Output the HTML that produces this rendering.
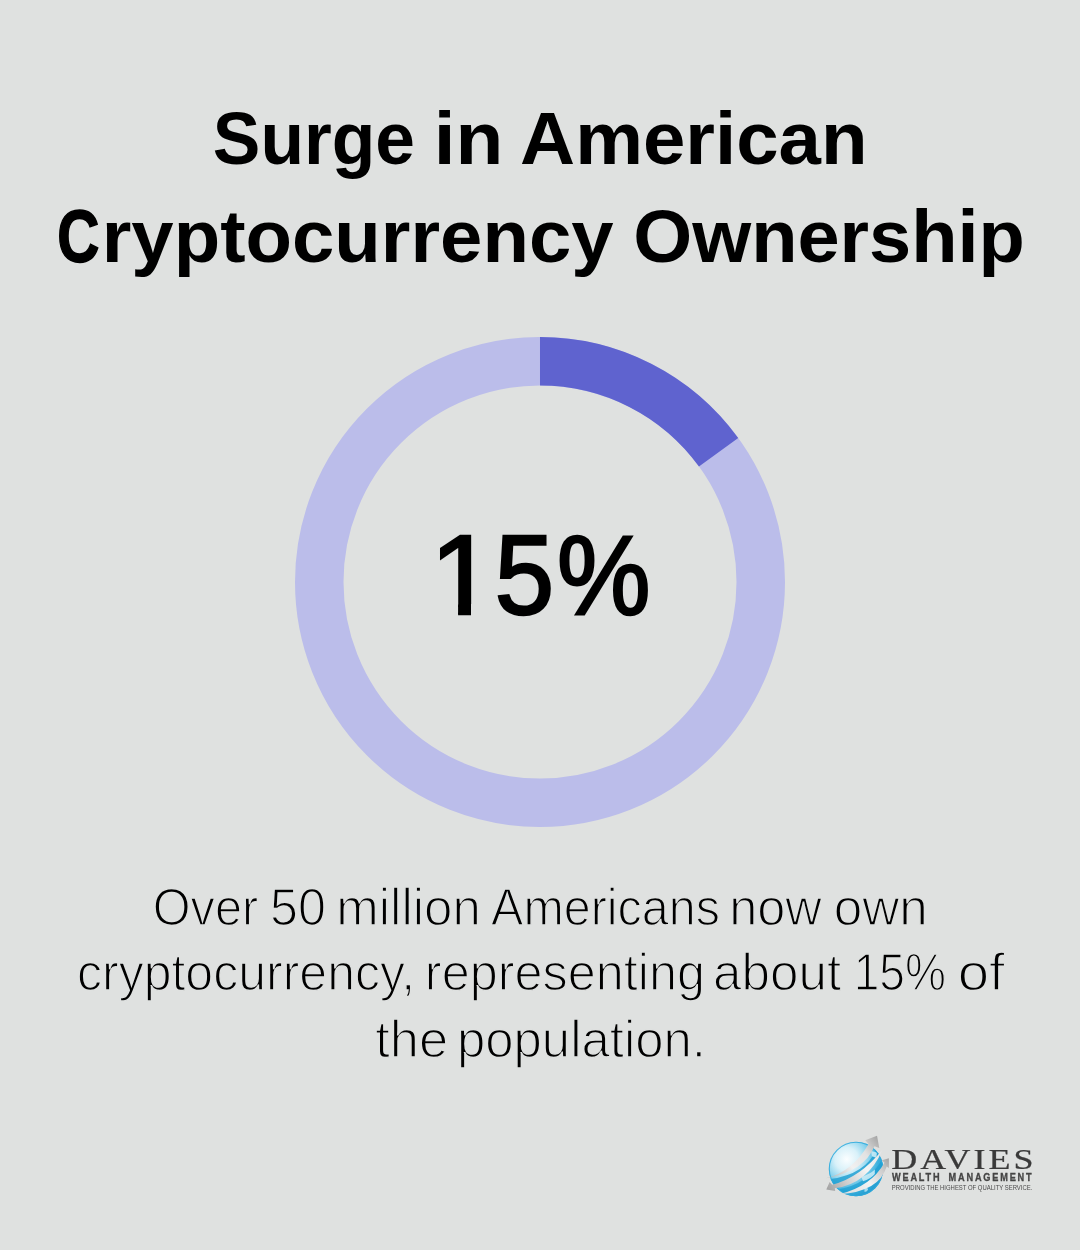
<!DOCTYPE html>
<html lang="en">
<head>
<meta charset="utf-8">
<title>Surge in American Cryptocurrency Ownership</title>
<style>
html,body,h1,p{margin:0;padding:0}
body{width:1080px;height:1250px;background:#dfe1e0;position:relative;overflow:hidden;color:#000;font-family:"Liberation Sans",sans-serif}
h1,p{font-weight:400;font-size:0}
.l{display:block;position:absolute;left:0;width:1080px;height:0;line-height:0;text-align:center;white-space:nowrap}
.w{display:inline-block;line-height:0;transform-origin:0 0}
.t .l{font-weight:700;font-size:75px}
.n .l{font-size:113px;-webkit-text-stroke:2.5px #000}
.b .l{font-size:52.5px;-webkit-text-stroke:1.5px #dfe1e0}
svg{position:absolute;left:0;top:0}
</style>
</head>
<body>
<svg width="1080" height="1250" viewBox="0 0 1080 1250">
<circle cx="540" cy="582" r="220.75" fill="none" stroke="#bbbdea" stroke-width="48.5"/>
<path d="M540.000 361.250A220.75 220.75 0 0 1 718.591 452.246" fill="none" stroke="#5f63cf" stroke-width="48.5"/>
<defs>
<radialGradient id="gl" cx="0.33" cy="0.32" r="0.72">
<stop offset="0" stop-color="#fbfeff"/>
<stop offset="0.3" stop-color="#d9f1f9"/>
<stop offset="0.55" stop-color="#8fd5ee"/>
<stop offset="0.8" stop-color="#3bb0dd"/>
<stop offset="1" stop-color="#279fd2"/>
</radialGradient>
<linearGradient id="s1" gradientUnits="userSpaceOnUse" x1="828" y1="1178" x2="878" y2="1138">
<stop offset="0" stop-color="#b4b4b4"/><stop offset="0.4" stop-color="#f1f1f1"/><stop offset="0.7" stop-color="#e2e2e2"/><stop offset="1" stop-color="#a6a6a6"/>
</linearGradient>
<linearGradient id="s2" gradientUnits="userSpaceOnUse" x1="827" y1="1189" x2="882" y2="1150">
<stop offset="0" stop-color="#a2a2a2"/><stop offset="0.3" stop-color="#cfcfcf"/><stop offset="0.65" stop-color="#f5f5f5"/><stop offset="1" stop-color="#e4e4e4"/>
</linearGradient>
<linearGradient id="s3" gradientUnits="userSpaceOnUse" x1="840" y1="1194" x2="889" y2="1159">
<stop offset="0" stop-color="#d8d8d8"/><stop offset="0.5" stop-color="#f3f3f3"/><stop offset="0.8" stop-color="#cdcdcd"/><stop offset="1" stop-color="#a4a4a4"/>
</linearGradient>
<clipPath id="gc"><circle cx="856" cy="1169" r="27.2"/></clipPath>
</defs>
<g id="logo">
<circle cx="856" cy="1169" r="27.2" fill="url(#gl)"/>
<g clip-path="url(#gc)">
<path d="M830.37 1179.11Q865.93 1173.93 876.30 1149.48L879.26 1153.19Q864.44 1178.37 832.59 1185.78Z" fill="#1d9ed1" opacity="0.8"/>
<path d="M837.78 1189.48Q868.89 1184.30 882.22 1159.11L882.96 1166.52Q873.33 1186.52 844.44 1193.19Z" fill="#1d9ed1" opacity="0.7"/>
<path d="M871.11 1150.96L877.04 1152.44L876.30 1157.63L871.85 1156.15Z" fill="#c9ebf6" opacity="0.9"/>
<path d="M861.48 1176.89Q870.37 1173.93 874.81 1169.48L874.81 1173.93Q870.37 1179.11 862.96 1181.33Z" fill="#c9ebf6" opacity="0.9"/>
<path d="M864.44 1188.74Q867.41 1186.52 868.15 1189.48Q866.67 1192.44 864.44 1191.70Z" fill="#bfe7f4" opacity="0.8"/>
</g>
<circle cx="856" cy="1169" r="26.7" fill="none" stroke="#2ea9da" stroke-width="1.1" opacity="0.85"/>
<path d="M825.93 1178.37Q852.59 1171.70 868.52 1143.93L865.19 1140.22L877.04 1135.78L879.26 1148.00L874.44 1146.15Q864.44 1170.96 825.93 1178.37Z" fill="url(#s1)"/>
<path d="M826.30 1189.48L829.63 1182.07L832.22 1184.67Q860.00 1177.63 882.59 1149.48Q868.15 1183.56 834.81 1188.37L835.19 1190.96Z" fill="url(#s2)"/>
<path d="M839.26 1194.30Q871.11 1186.52 884.44 1162.81L881.85 1160.22L888.89 1158.37L888.89 1168.00L886.67 1166.52Q879.26 1191.70 839.26 1194.30Z" fill="url(#s3)"/>
<text transform="translate(891.2 1168.9) scale(1.24 1)" font-family="'Liberation Serif',serif" font-size="29" fill="#3a3a3a" stroke="#3a3a3a" stroke-width="0.25" letter-spacing="2.45">DAVIES</text>
<text transform="translate(892 1181.2) scale(0.82 1)" font-family="'Liberation Sans',sans-serif" font-weight="700" font-size="11.2" fill="#454545" stroke="#454545" stroke-width="0.35" letter-spacing="2.2" word-spacing="3.5">WEALTH MANAGEMENT</text>
<text x="891.8" y="1189.7" font-family="'Liberation Sans',sans-serif" font-size="7" fill="#4c4c4c" textLength="140.5" lengthAdjust="spacingAndGlyphs">PROVIDING THE HIGHEST OF QUALITY SERVICE.</text>
</g>
</svg>
<h1 class="t">
<span class="l" style="top:138px"><span class="w" style="transform:translateX(3.80px) scaleX(0.9516)">Surge</span> <span class="w" style="transform:translateX(-8.17px) scaleX(1.0436)">in</span> <span class="w" style="transform:translateX(-9.92px) scaleX(1.0163)">American</span></span>
<span class="l" style="top:236px"><span class="w" style="transform:translateX(0.14px) scaleX(0.7781);-webkit-text-stroke:1.6px #000">C</span><span class="w" style="transform:translateX(-9.30px) scaleX(1.0150)">ryptocurrency</span> <span class="w" style="transform:translateX(-2.74px) scaleX(1.0105)">Ownership</span></span>
</h1>
<p class="n">
<span class="l" style="top:575px"><span class="w" style="transform:translateX(2.88px) scaleX(1.0379);clip-path:polygon(-30px -130px,100px -130px,100px 29px,39.63px 29px,39.63px 80px,27.17px 80px,27.17px 29px,-30px 29px)">1</span><span class="w" style="transform:translateX(4.84px) scaleX(0.9441)">5</span><span class="w" style="transform:translateX(3.98px) scaleX(0.9302)">%</span></span>
</p>
<p class="b">
<span class="l" style="top:907px"><span class="w" style="transform:translateX(29.75px) scaleX(0.9263)">Over</span> <span class="w" style="transform:translateX(18.98px) scaleX(0.9574)">50</span> <span class="w" style="transform:translateX(12.21px) scaleX(0.9720)">million</span> <span class="w" style="transform:translateX(4.06px) scaleX(0.9229)">Americans</span> <span class="w" style="transform:translateX(-20.80px) scaleX(0.9607)">now</span> <span class="w" style="transform:translateX(-27.35px) scaleX(0.9770)">own</span></span>
<span class="l" style="top:972px"><span class="w" style="transform:translateX(30.00px) scaleX(0.9526)">cryptocurrency,</span> <span class="w" style="transform:translateX(7.85px) scaleX(0.9597)">representing</span> <span class="w" style="transform:translateX(-10.02px) scaleX(0.9754)">about</span> <span class="w" style="transform:translateX(-15.34px) scaleX(0.8782)">15%</span> <span class="w" style="transform:translateX(-31.32px) scaleX(1.0738)">of</span></span>
<span class="l" style="top:1039px"><span class="w" style="transform:translateX(7.14px) scaleX(1.0004)">the</span> <span class="w" style="transform:translateX(1.91px) scaleX(0.9697)">population.</span></span>
</p>
</body>
</html>
